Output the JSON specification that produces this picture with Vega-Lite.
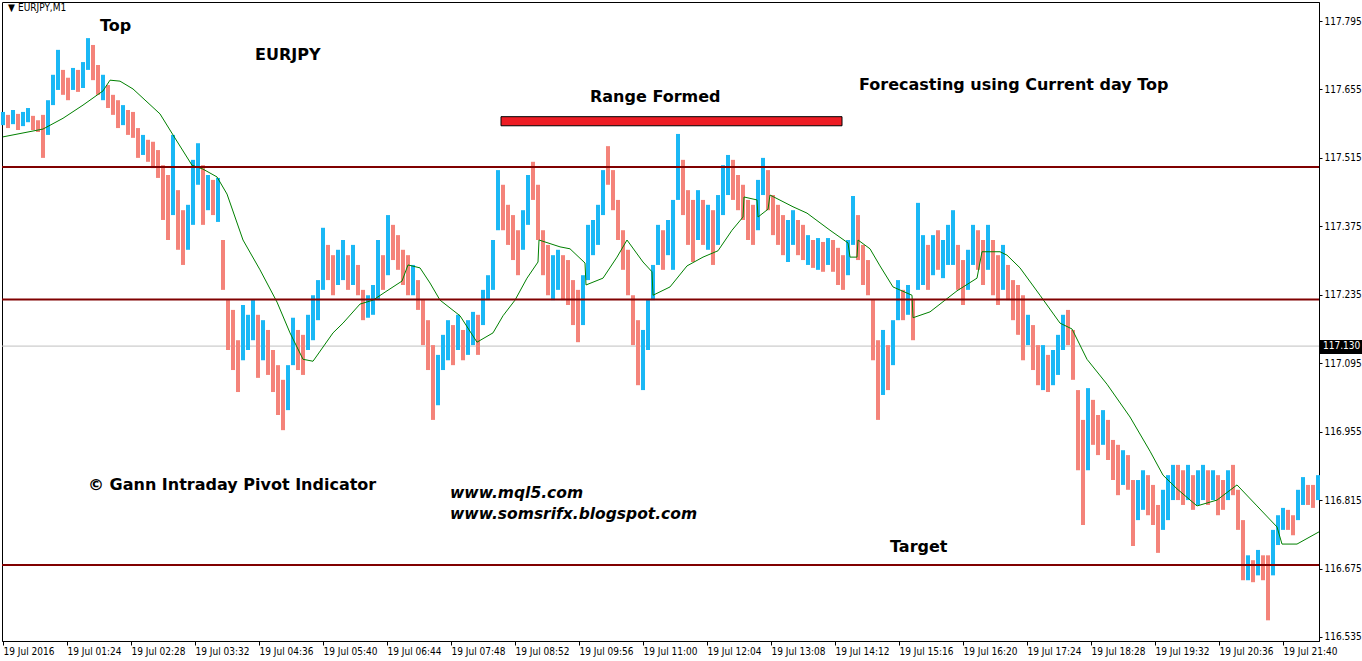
{
  "$schema": "https://vega.github.io/schema/vega-lite/v6.json",
  "width": 1317,
  "height": 639,
  "autosize": {"type": "none"},
  "padding": {"left": 2, "top": 2, "right": 43, "bottom": 20},
  "background": "white",
  "config": {
    "view": {"stroke": "black", "strokeWidth": 1},
    "axis": {"grid": false, "domainColor": "black", "tickColor": "black", "labelColor": "black", "labelFont": "DejaVu Sans Condensed, DejaVu Sans", "labelFontSize": 10, "title": null}
  },
  "datasets": {
    "candles": [
      {"t":20,"h":117.609,"l":117.582,"d":"u"},{"t":25,"h":117.603,"l":117.576,"d":"d"},{"t":30,"h":117.613,"l":117.584,"d":"u"},{"t":35,"h":117.605,"l":117.572,"d":"d"},
      {"t":40,"h":117.609,"l":117.580,"d":"u"},{"t":45,"h":117.617,"l":117.588,"d":"u"},{"t":50,"h":117.601,"l":117.572,"d":"d"},{"t":55,"h":117.592,"l":117.568,"d":"d"},
      {"t":60,"h":117.603,"l":117.515,"d":"d"},{"t":65,"h":117.633,"l":117.562,"d":"u"},{"t":70,"h":117.685,"l":117.623,"d":"u"},{"t":75,"h":117.736,"l":117.654,"d":"u"},
      {"t":80,"h":117.695,"l":117.644,"d":"d"},{"t":85,"h":117.679,"l":117.633,"d":"d"},{"t":90,"h":117.699,"l":117.654,"d":"u"},{"t":95,"h":117.695,"l":117.650,"d":"d"},
      {"t":100,"h":117.711,"l":117.658,"d":"u"},{"t":105,"h":117.760,"l":117.695,"d":"u"},{"t":110,"h":117.746,"l":117.674,"d":"d"},{"t":115,"h":117.705,"l":117.644,"d":"d"},
      {"t":120,"h":117.685,"l":117.633,"d":"u"},{"t":125,"h":117.664,"l":117.617,"d":"d"},{"t":130,"h":117.644,"l":117.603,"d":"d"},{"t":135,"h":117.633,"l":117.576,"d":"d"},
      {"t":140,"h":117.623,"l":117.582,"d":"u"},{"t":145,"h":117.613,"l":117.562,"d":"d"},{"t":150,"h":117.609,"l":117.556,"d":"d"},{"t":155,"h":117.576,"l":117.515,"d":"d"},
      {"t":160,"h":117.562,"l":117.521,"d":"u"},{"t":165,"h":117.552,"l":117.507,"d":"d"},{"t":170,"h":117.548,"l":117.494,"d":"d"},{"t":175,"h":117.531,"l":117.474,"d":"d"},
      {"t":180,"h":117.500,"l":117.388,"d":"d"},{"t":185,"h":117.480,"l":117.347,"d":"d"},{"t":190,"h":117.562,"l":117.398,"d":"u"},{"t":195,"h":117.449,"l":117.327,"d":"d"},
      {"t":200,"h":117.408,"l":117.296,"d":"d"},{"t":205,"h":117.419,"l":117.327,"d":"u"},{"t":210,"h":117.511,"l":117.378,"d":"u"},{"t":215,"h":117.545,"l":117.460,"d":"u"},
      {"t":220,"h":117.500,"l":117.378,"d":"d"},{"t":225,"h":117.480,"l":117.408,"d":"u"},{"t":230,"h":117.470,"l":117.398,"d":"d"},{"t":235,"h":117.474,"l":117.384,"d":"u"},
      {"t":240,"h":117.347,"l":117.245,"d":"d"},{"t":245,"h":117.224,"l":117.122,"d":"d"},{"t":250,"h":117.204,"l":117.081,"d":"d"},{"t":255,"h":117.142,"l":117.036,"d":"d"},
      {"t":260,"h":117.214,"l":117.101,"d":"u"},{"t":265,"h":117.194,"l":117.122,"d":"u"},{"t":270,"h":117.224,"l":117.142,"d":"u"},{"t":275,"h":117.194,"l":117.065,"d":"d"},
      {"t":280,"h":117.183,"l":117.101,"d":"u"},{"t":285,"h":117.163,"l":117.071,"d":"d"},{"t":290,"h":117.122,"l":117.036,"d":"d"},{"t":295,"h":117.091,"l":116.989,"d":"d"},
      {"t":300,"h":117.061,"l":116.958,"d":"d"},{"t":305,"h":117.091,"l":116.999,"d":"u"},{"t":310,"h":117.188,"l":117.091,"d":"u"},{"t":315,"h":117.163,"l":117.081,"d":"d"},
      {"t":320,"h":117.153,"l":117.071,"d":"d"},{"t":325,"h":117.194,"l":117.122,"d":"u"},{"t":330,"h":117.234,"l":117.142,"d":"u"},{"t":335,"h":117.265,"l":117.183,"d":"u"},
      {"t":340,"h":117.372,"l":117.245,"d":"u"},{"t":345,"h":117.337,"l":117.265,"d":"d"},{"t":350,"h":117.316,"l":117.234,"d":"d"},{"t":355,"h":117.327,"l":117.255,"d":"u"},
      {"t":360,"h":117.347,"l":117.265,"d":"u"},{"t":365,"h":117.316,"l":117.245,"d":"d"},{"t":370,"h":117.337,"l":117.255,"d":"u"},{"t":375,"h":117.296,"l":117.234,"d":"d"},
      {"t":380,"h":117.245,"l":117.183,"d":"d"},{"t":385,"h":117.234,"l":117.188,"d":"u"},{"t":390,"h":117.255,"l":117.194,"d":"u"},{"t":395,"h":117.347,"l":117.224,"d":"u"},
      {"t":400,"h":117.316,"l":117.245,"d":"d"},{"t":405,"h":117.398,"l":117.275,"d":"u"},{"t":410,"h":117.378,"l":117.306,"d":"d"},{"t":415,"h":117.357,"l":117.286,"d":"d"},
      {"t":420,"h":117.327,"l":117.255,"d":"d"},{"t":425,"h":117.316,"l":117.234,"d":"d"},{"t":430,"h":117.296,"l":117.234,"d":"u"},{"t":435,"h":117.265,"l":117.204,"d":"d"},
      {"t":440,"h":117.224,"l":117.132,"d":"d"},{"t":445,"h":117.183,"l":117.081,"d":"d"},{"t":450,"h":117.132,"l":116.979,"d":"d"},{"t":455,"h":117.112,"l":117.009,"d":"u"},
      {"t":460,"h":117.153,"l":117.081,"d":"u"},{"t":465,"h":117.183,"l":117.101,"d":"u"},{"t":470,"h":117.173,"l":117.091,"d":"d"},{"t":475,"h":117.194,"l":117.122,"d":"u"},
      {"t":480,"h":117.163,"l":117.101,"d":"d"},{"t":485,"h":117.183,"l":117.112,"d":"u"},{"t":490,"h":117.200,"l":117.132,"d":"u"},{"t":495,"h":117.194,"l":117.112,"d":"d"},
      {"t":500,"h":117.245,"l":117.173,"d":"u"},{"t":505,"h":117.275,"l":117.224,"d":"u"},{"t":510,"h":117.347,"l":117.245,"d":"u"},{"t":515,"h":117.490,"l":117.367,"d":"u"},
      {"t":520,"h":117.460,"l":117.367,"d":"d"},{"t":525,"h":117.419,"l":117.337,"d":"d"},{"t":530,"h":117.398,"l":117.306,"d":"d"},{"t":535,"h":117.367,"l":117.275,"d":"d"},
      {"t":540,"h":117.408,"l":117.327,"d":"u"},{"t":545,"h":117.480,"l":117.378,"d":"u"},{"t":550,"h":117.507,"l":117.429,"d":"d"},{"t":555,"h":117.460,"l":117.347,"d":"d"},
      {"t":560,"h":117.367,"l":117.275,"d":"d"},{"t":565,"h":117.337,"l":117.234,"d":"d"},{"t":570,"h":117.316,"l":117.224,"d":"u"},{"t":575,"h":117.327,"l":117.245,"d":"u"},
      {"t":580,"h":117.316,"l":117.224,"d":"d"},{"t":585,"h":117.306,"l":117.214,"d":"d"},{"t":590,"h":117.265,"l":117.173,"d":"d"},{"t":595,"h":117.245,"l":117.138,"d":"d"},
      {"t":600,"h":117.275,"l":117.173,"d":"u"},{"t":605,"h":117.378,"l":117.265,"d":"u"},{"t":610,"h":117.388,"l":117.316,"d":"u"},{"t":615,"h":117.419,"l":117.337,"d":"u"},
      {"t":620,"h":117.490,"l":117.398,"d":"u"},{"t":625,"h":117.539,"l":117.460,"d":"d"},{"t":630,"h":117.490,"l":117.408,"d":"d"},{"t":635,"h":117.429,"l":117.347,"d":"d"},
      {"t":640,"h":117.367,"l":117.286,"d":"d"},{"t":645,"h":117.327,"l":117.234,"d":"d"},{"t":650,"h":117.234,"l":117.132,"d":"d"},{"t":655,"h":117.183,"l":117.050,"d":"d"},
      {"t":660,"h":117.163,"l":117.040,"d":"u"},{"t":665,"h":117.224,"l":117.122,"d":"u"},{"t":670,"h":117.296,"l":117.224,"d":"u"},{"t":675,"h":117.378,"l":117.296,"d":"u"},
      {"t":680,"h":117.367,"l":117.286,"d":"d"},{"t":685,"h":117.388,"l":117.316,"d":"u"},{"t":690,"h":117.429,"l":117.286,"d":"u"},{"t":695,"h":117.564,"l":117.429,"d":"u"},
      {"t":700,"h":117.511,"l":117.398,"d":"d"},{"t":705,"h":117.449,"l":117.337,"d":"d"},{"t":710,"h":117.429,"l":117.302,"d":"d"},{"t":715,"h":117.449,"l":117.347,"d":"u"},
      {"t":720,"h":117.429,"l":117.337,"d":"d"},{"t":725,"h":117.419,"l":117.327,"d":"u"},{"t":730,"h":117.408,"l":117.296,"d":"d"},{"t":735,"h":117.439,"l":117.337,"d":"u"},
      {"t":740,"h":117.500,"l":117.398,"d":"u"},{"t":745,"h":117.521,"l":117.439,"d":"u"},{"t":750,"h":117.511,"l":117.429,"d":"d"},{"t":755,"h":117.480,"l":117.408,"d":"d"},
      {"t":760,"h":117.460,"l":117.388,"d":"d"},{"t":765,"h":117.429,"l":117.347,"d":"d"},{"t":770,"h":117.419,"l":117.337,"d":"d"},{"t":775,"h":117.470,"l":117.367,"d":"u"},
      {"t":780,"h":117.515,"l":117.439,"d":"u"},{"t":785,"h":117.490,"l":117.408,"d":"d"},{"t":790,"h":117.439,"l":117.357,"d":"d"},{"t":795,"h":117.419,"l":117.337,"d":"d"},
      {"t":800,"h":117.398,"l":117.316,"d":"d"},{"t":805,"h":117.388,"l":117.302,"d":"u"},{"t":810,"h":117.408,"l":117.337,"d":"u"},{"t":815,"h":117.388,"l":117.316,"d":"d"},
      {"t":820,"h":117.378,"l":117.306,"d":"d"},{"t":825,"h":117.357,"l":117.296,"d":"u"},{"t":830,"h":117.347,"l":117.290,"d":"d"},{"t":835,"h":117.351,"l":117.286,"d":"u"},
      {"t":840,"h":117.343,"l":117.282,"d":"d"},{"t":845,"h":117.351,"l":117.296,"d":"u"},{"t":850,"h":117.347,"l":117.282,"d":"d"},{"t":855,"h":117.331,"l":117.255,"d":"d"},
      {"t":860,"h":117.316,"l":117.245,"d":"d"},{"t":865,"h":117.347,"l":117.275,"d":"u"},{"t":870,"h":117.437,"l":117.337,"d":"u"},{"t":875,"h":117.398,"l":117.306,"d":"d"},
      {"t":880,"h":117.337,"l":117.255,"d":"d"},{"t":885,"h":117.306,"l":117.234,"d":"d"},{"t":890,"h":117.224,"l":117.101,"d":"d"},{"t":895,"h":117.142,"l":116.979,"d":"d"},
      {"t":900,"h":117.163,"l":117.030,"d":"u"},{"t":905,"h":117.132,"l":117.040,"d":"d"},{"t":910,"h":117.183,"l":117.091,"d":"u"},{"t":915,"h":117.265,"l":117.183,"d":"u"},
      {"t":920,"h":117.245,"l":117.183,"d":"d"},{"t":925,"h":117.255,"l":117.194,"d":"u"},{"t":930,"h":117.224,"l":117.142,"d":"d"},{"t":935,"h":117.423,"l":117.245,"d":"u"},
      {"t":940,"h":117.357,"l":117.255,"d":"u"},{"t":945,"h":117.337,"l":117.245,"d":"d"},{"t":950,"h":117.357,"l":117.275,"d":"u"},{"t":955,"h":117.367,"l":117.286,"d":"d"},
      {"t":960,"h":117.347,"l":117.269,"d":"u"},{"t":965,"h":117.378,"l":117.296,"d":"u"},{"t":970,"h":117.408,"l":117.296,"d":"u"},{"t":975,"h":117.337,"l":117.245,"d":"d"},
      {"t":980,"h":117.306,"l":117.214,"d":"d"},{"t":985,"h":117.327,"l":117.245,"d":"u"},{"t":990,"h":117.378,"l":117.296,"d":"u"},{"t":995,"h":117.367,"l":117.286,"d":"d"},
      {"t":1000,"h":117.347,"l":117.255,"d":"d"},{"t":1005,"h":117.378,"l":117.286,"d":"u"},{"t":1010,"h":117.347,"l":117.234,"d":"d"},{"t":1015,"h":117.316,"l":117.214,"d":"d"},
      {"t":1020,"h":117.337,"l":117.245,"d":"u"},{"t":1025,"h":117.296,"l":117.224,"d":"d"},{"t":1030,"h":117.265,"l":117.183,"d":"d"},{"t":1035,"h":117.255,"l":117.153,"d":"d"},
      {"t":1040,"h":117.234,"l":117.101,"d":"d"},{"t":1045,"h":117.194,"l":117.132,"d":"u"},{"t":1050,"h":117.173,"l":117.081,"d":"d"},{"t":1055,"h":117.132,"l":117.050,"d":"d"},
      {"t":1060,"h":117.132,"l":117.040,"d":"u"},{"t":1065,"h":117.112,"l":117.036,"d":"d"},{"t":1070,"h":117.122,"l":117.050,"d":"u"},{"t":1075,"h":117.153,"l":117.071,"d":"u"},
      {"t":1080,"h":117.194,"l":117.122,"d":"u"},{"t":1085,"h":117.204,"l":117.132,"d":"d"},{"t":1090,"h":117.163,"l":117.061,"d":"d"},{"t":1095,"h":117.040,"l":116.876,"d":"d"},
      {"t":1100,"h":116.979,"l":116.764,"d":"d"},{"t":1105,"h":117.044,"l":116.876,"d":"u"},{"t":1110,"h":117.020,"l":116.928,"d":"d"},{"t":1115,"h":116.989,"l":116.907,"d":"d"},
      {"t":1120,"h":116.999,"l":116.928,"d":"u"},{"t":1125,"h":116.979,"l":116.897,"d":"d"},{"t":1130,"h":116.938,"l":116.856,"d":"d"},{"t":1135,"h":116.928,"l":116.825,"d":"d"},
      {"t":1140,"h":116.917,"l":116.846,"d":"u"},{"t":1145,"h":116.907,"l":116.836,"d":"d"},{"t":1150,"h":116.856,"l":116.721,"d":"d"},{"t":1155,"h":116.856,"l":116.774,"d":"u"},
      {"t":1160,"h":116.876,"l":116.795,"d":"u"},{"t":1165,"h":116.866,"l":116.784,"d":"d"},{"t":1170,"h":116.846,"l":116.764,"d":"d"},{"t":1175,"h":116.805,"l":116.707,"d":"d"},
      {"t":1180,"h":116.836,"l":116.754,"d":"u"},{"t":1185,"h":116.866,"l":116.774,"d":"u"},{"t":1190,"h":116.887,"l":116.815,"d":"u"},{"t":1195,"h":116.887,"l":116.815,"d":"d"},
      {"t":1200,"h":116.876,"l":116.805,"d":"d"},{"t":1205,"h":116.887,"l":116.815,"d":"u"},{"t":1210,"h":116.866,"l":116.795,"d":"d"},{"t":1215,"h":116.876,"l":116.805,"d":"u"},
      {"t":1220,"h":116.887,"l":116.815,"d":"u"},{"t":1225,"h":116.876,"l":116.805,"d":"d"},{"t":1230,"h":116.876,"l":116.815,"d":"u"},{"t":1235,"h":116.866,"l":116.784,"d":"d"},
      {"t":1240,"h":116.856,"l":116.795,"d":"d"},{"t":1245,"h":116.876,"l":116.815,"d":"u"},{"t":1250,"h":116.887,"l":116.825,"d":"d"},{"t":1255,"h":116.836,"l":116.754,"d":"d"},
      {"t":1260,"h":116.774,"l":116.651,"d":"d"},{"t":1265,"h":116.702,"l":116.651,"d":"u"},{"t":1270,"h":116.692,"l":116.647,"d":"d"},{"t":1275,"h":116.713,"l":116.661,"d":"u"},
      {"t":1280,"h":116.702,"l":116.651,"d":"d"},{"t":1285,"h":116.702,"l":116.569,"d":"d"},{"t":1290,"h":116.754,"l":116.661,"d":"u"},{"t":1295,"h":116.784,"l":116.723,"d":"u"},
      {"t":1300,"h":116.799,"l":116.754,"d":"u"},{"t":1305,"h":116.795,"l":116.754,"d":"d"},{"t":1310,"h":116.784,"l":116.743,"d":"d"},{"t":1315,"h":116.836,"l":116.774,"d":"u"},
      {"t":1320,"h":116.862,"l":116.805,"d":"u"},{"t":1325,"h":116.846,"l":116.805,"d":"d"},{"t":1330,"h":116.846,"l":116.799,"d":"d"},{"t":1335,"h":116.866,"l":116.815,"d":"u"}
    ],
    "ma": [
      {"i":1,"t":20,"price":117.558},{"i":2,"t":60,"price":117.574},{"i":3,"t":80,"price":117.596},{"i":4,"t":100,"price":117.623},
      {"i":5,"t":120,"price":117.652},{"i":6,"t":127,"price":117.674},{"i":7,"t":137,"price":117.672},{"i":8,"t":150,"price":117.656},
      {"i":9,"t":177,"price":117.605},{"i":10,"t":190,"price":117.562},{"i":11,"t":209,"price":117.500},{"i":12,"t":220,"price":117.492},
      {"i":13,"t":234,"price":117.476},{"i":14,"t":244,"price":117.441},{"i":15,"t":260,"price":117.347},{"i":16,"t":277,"price":117.286},
      {"i":17,"t":294,"price":117.220},{"i":18,"t":307,"price":117.157},{"i":19,"t":320,"price":117.103},{"i":20,"t":330,"price":117.099},
      {"i":21,"t":350,"price":117.157},{"i":22,"t":360,"price":117.177},{"i":23,"t":377,"price":117.216},{"i":24,"t":390,"price":117.224},
      {"i":25,"t":404,"price":117.243},{"i":26,"t":419,"price":117.263},{"i":27,"t":425,"price":117.296},{"i":28,"t":437,"price":117.290},
      {"i":29,"t":447,"price":117.259},{"i":30,"t":457,"price":117.224},{"i":31,"t":477,"price":117.192},{"i":32,"t":494,"price":117.138},
      {"i":33,"t":510,"price":117.157},{"i":34,"t":520,"price":117.192},{"i":35,"t":532,"price":117.224},{"i":36,"t":544,"price":117.269},
      {"i":37,"t":555,"price":117.302},{"i":38,"t":556,"price":117.347},{"i":39,"t":577,"price":117.333},{"i":40,"t":587,"price":117.329},
      {"i":41,"t":602,"price":117.300},{"i":42,"t":603,"price":117.255},{"i":43,"t":620,"price":117.269},{"i":44,"t":634,"price":117.312},
      {"i":45,"t":644,"price":117.347},{"i":46,"t":660,"price":117.302},{"i":47,"t":669,"price":117.282},{"i":48,"t":670,"price":117.234},
      {"i":49,"t":687,"price":117.251},{"i":50,"t":704,"price":117.294},{"i":51,"t":720,"price":117.312},{"i":52,"t":735,"price":117.325},
      {"i":53,"t":749,"price":117.367},{"i":54,"t":760,"price":117.394},{"i":55,"t":761,"price":117.435},{"i":56,"t":774,"price":117.429},
      {"i":57,"t":775,"price":117.394},{"i":58,"t":785,"price":117.410},{"i":59,"t":787,"price":117.439},{"i":60,"t":810,"price":117.415},
      {"i":61,"t":824,"price":117.402},{"i":62,"t":847,"price":117.367},{"i":63,"t":865,"price":117.341},{"i":64,"t":867,"price":117.312},
      {"i":65,"t":874,"price":117.312},{"i":66,"t":875,"price":117.347},{"i":67,"t":887,"price":117.329},{"i":68,"t":897,"price":117.294},
      {"i":69,"t":910,"price":117.251},{"i":70,"t":929,"price":117.234},{"i":71,"t":930,"price":117.188},{"i":72,"t":947,"price":117.200},
      {"i":73,"t":974,"price":117.243},{"i":74,"t":994,"price":117.269},{"i":75,"t":999,"price":117.323},{"i":76,"t":1017,"price":117.323},
      {"i":77,"t":1024,"price":117.316},{"i":78,"t":1037,"price":117.290},{"i":79,"t":1057,"price":117.234},{"i":80,"t":1077,"price":117.177},
      {"i":81,"t":1089,"price":117.165},{"i":82,"t":1104,"price":117.103},{"i":83,"t":1124,"price":117.052},{"i":84,"t":1147,"price":116.985},
      {"i":85,"t":1167,"price":116.915},{"i":86,"t":1180,"price":116.866},{"i":87,"t":1194,"price":116.838},{"i":88,"t":1214,"price":116.803},
      {"i":89,"t":1234,"price":116.815},{"i":90,"t":1254,"price":116.846},{"i":91,"t":1274,"price":116.803},{"i":92,"t":1294,"price":116.760},
      {"i":93,"t":1299,"price":116.725},{"i":94,"t":1314,"price":116.725},{"i":95,"t":1336,"price":116.750}
    ],
    "levels": [{"price":117.4963},{"price":117.2253},{"price":116.6822}],
    "bid": [{"price":117.130}],
    "range": [{"t1":518,"t2":859,"p1":117.5993,"p2":117.5807}],
    "notes": [
      {"t":117,"price":117.7848,"text":"Top"},
      {"t":272,"price":117.7255,"text":"EURJPY"},
      {"t":607,"price":117.6395,"text":"Range Formed"},
      {"t":876,"price":117.6641,"text":"Forecasting using Current day Top"},
      {"t":105,"price":116.8459,"text":"© Gann Intraday Pivot Indicator"},
      {"t":907,"price":116.7190,"text":"Target"}
    ],
    "urls": [
      {"t":467,"price":116.8295,"text":"www.mql5.com"},
      {"t":467,"price":116.7865,"text":"www.somsrifx.blogspot.com"}
    ],
    "header": [{"t":25,"price":117.8216,"text":"▼"},{"t":35,"price":117.8216,"text":"EURJPY,M1"}],
    "pricebox": [{"t1":1337,"t2":1380,"p1":117.1425,"p2":117.1138,"t":1340,"price":117.130,"text":"117.130"}]
  },
  "layer": [
    {
      "data": {"name": "bid"},
      "mark": {"type": "rule", "color": "#c0c0c0", "strokeWidth": 1},
      "encoding": {
        "y": {"field": "price", "type": "quantitative", "scale": {"domain": [116.5267, 117.8339], "nice": false, "zero": false},
          "axis": {"orient": "right", "values": [116.535,116.605,116.675,116.745,116.815,116.885,116.955,117.025,117.095,117.165,117.235,117.305,117.375,117.445,117.515,117.585,117.655,117.725,117.795], "format": ".3f", "tickSize": 3, "labelPadding": 2, "labelBaseline": "middle", "labelOverlap": false, "labelFlush": false, "labelBound": false}}
      }
    },
    {
      "data": {"name": "candles"},
      "mark": {"type": "rule", "strokeWidth": 4},
      "encoding": {
        "x": {"field": "t", "type": "quantitative", "scale": {"domain": [19, 1336], "nice": false, "zero": false},
          "axis": {"orient": "bottom", "values": [20,84,148,212,276,340,404,468,532,596,660,724,788,852,916,980,1044,1108,1172,1236,1300], "labelExpr": "datum.value == 20 ? '19 Jul 2016' : '19 Jul ' + timeFormat(datetime(2016, 6, 19, 0, datum.value), '%H:%M')", "tickSize": 4, "labelAlign": "left", "labelBaseline": "top", "labelPadding": 1, "labelOverlap": false, "labelFlush": false, "labelBound": false}},
        "y": {"field": "h", "type": "quantitative"},
        "y2": {"field": "l"},
        "color": {"field": "d", "type": "nominal", "scale": {"domain": ["u", "d"], "range": ["#1ab8f5", "#f4837a"]}, "legend": null}
      }
    },
    {
      "data": {"name": "ma"},
      "mark": {"type": "line", "color": "#008000", "strokeWidth": 1},
      "encoding": {
        "x": {"field": "t", "type": "quantitative"},
        "y": {"field": "price", "type": "quantitative"},
        "order": {"field": "i", "type": "quantitative"}
      }
    },
    {
      "data": {"name": "levels"},
      "mark": {"type": "rule", "color": "#800000", "strokeWidth": 2},
      "encoding": {"y": {"field": "price", "type": "quantitative"}}
    },
    {
      "data": {"name": "range"},
      "mark": {"type": "rect", "color": "#ed1c24", "stroke": "black", "strokeWidth": 1},
      "encoding": {
        "x": {"field": "t1", "type": "quantitative"}, "x2": {"field": "t2"},
        "y": {"field": "p1", "type": "quantitative"}, "y2": {"field": "p2"}
      }
    },
    {
      "data": {"name": "notes"},
      "mark": {"type": "text", "align": "left", "baseline": "middle", "font": "DejaVu Sans", "fontWeight": "bold", "fontSize": 16, "color": "black"},
      "encoding": {
        "x": {"field": "t", "type": "quantitative"},
        "y": {"field": "price", "type": "quantitative"},
        "text": {"field": "text"}
      }
    },
    {
      "data": {"name": "urls"},
      "mark": {"type": "text", "align": "left", "baseline": "middle", "font": "DejaVu Sans", "fontWeight": "bold", "fontStyle": "italic", "fontSize": 15.5, "color": "black"},
      "encoding": {
        "x": {"field": "t", "type": "quantitative"},
        "y": {"field": "price", "type": "quantitative"},
        "text": {"field": "text"}
      }
    },
    {
      "data": {"name": "header"},
      "mark": {"type": "text", "align": "left", "baseline": "middle", "font": "DejaVu Sans Condensed, DejaVu Sans", "fontSize": 10, "color": "black"},
      "encoding": {
        "x": {"field": "t", "type": "quantitative"},
        "y": {"field": "price", "type": "quantitative"},
        "text": {"field": "text"}
      }
    },
    {
      "data": {"name": "pricebox"},
      "mark": {"type": "rect", "color": "black"},
      "encoding": {
        "x": {"field": "t1", "type": "quantitative"}, "x2": {"field": "t2"},
        "y": {"field": "p1", "type": "quantitative"}, "y2": {"field": "p2"}
      }
    },
    {
      "data": {"name": "pricebox"},
      "mark": {"type": "text", "align": "left", "baseline": "middle", "font": "DejaVu Sans Condensed, DejaVu Sans", "fontSize": 10, "color": "white"},
      "encoding": {
        "x": {"field": "t", "type": "quantitative"},
        "y": {"field": "price", "type": "quantitative"},
        "text": {"field": "text"}
      }
    }
  ]
}
